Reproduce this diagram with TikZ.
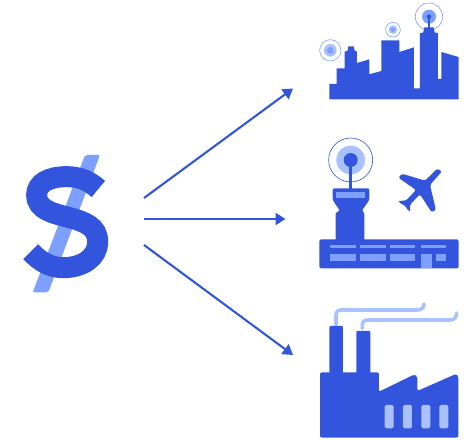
\documentclass[tikz,border=0pt]{standalone}
\usetikzlibrary{arrows.meta}
\definecolor{darkblue}{HTML}{3355DD}
\definecolor{midblue}{HTML}{7DA0FF}
\definecolor{paleblue}{HTML}{AAC1FF}
\tikzset{
  flow/.style={draw=darkblue,line width=2.1pt,-{Triangle[length=10pt,width=12pt]}},
  solid dark/.style={fill=darkblue,draw=none},
  solid mid/.style={fill=midblue,draw=none},
  solid pale/.style={fill=paleblue,draw=none},
  ring/.style={draw=midblue,line width=.6pt,fill=white},
  smoke/.style={draw=paleblue,line width=3.6pt,line cap=round},
  icon/.style={shift={(#1)},x=.3333pt,y=-.3333pt}
}
\begin{document}
\begin{tikzpicture}[x=1pt,y=-1pt]
\useasboundingbox (0,0) rectangle (464,441);
% dollar
\begin{scope}[icon={10pt,-145pt}]
  \fill[solid mid,rounded corners=2pt] (225,30) -- (270,30) -- (115,442) -- (68,442) -- cycle;
  \draw[darkblue,line width=21pt] (265,132) .. controls (235,105) and (205,95) .. (170,95)
    .. controls (115,95) and (80,115) .. (80,150) .. controls (80,195) and (130,205) .. (175,217)
    .. controls (225,230) and (263,245) .. (263,290) .. controls (263,340) and (215,368) .. (160,368)
    .. controls (120,368) and (90,350) .. (62,320);
\end{scope}
% arrows
\coordinate (src top) at (144,198);
\coordinate (src mid) at (144,219);
\coordinate (src low) at (144,245);
\coordinate (city) at (293,88.5);
\coordinate (airport) at (285.5,219);
\coordinate (factory) at (293,355);
\draw[flow] (src top) -- (city);
\draw[flow] (src mid) -- (airport);
\draw[flow] (src low) -- (factory);
% city
\begin{scope}[icon={310pt,0pt}]
  \foreach \cx/\cy/\ra/\rb/\rc in {61/151/32/19/10, 249/89/22/13/7}{
    \draw[ring] (\cx,\cy) circle [radius=\ra];
    \fill[solid pale] (\cx,\cy) circle [radius=\rb];
    \fill[solid mid] (\cx,\cy) circle [radius=\rc];
  }
  \draw[ring] (357,50) circle [radius=41];
  \fill[solid mid] (357,50) circle [radius=21];
  \fill[solid dark] (357,50) circle [radius=7];
  \draw[darkblue,line width=1.3pt] (357,50) -- (357,85);
  \fill[solid dark] (58,298) -- (58,252) -- (80,252) -- (80,205) -- (104,205) -- (104,155)
    -- (113,152) -- (115,139) -- (131,139) -- (134,152) -- (141,155) -- (141,189) -- (178,178)
    -- (178,223) -- (214,213) -- (214,121) -- (268,121) -- (268,156) -- (312,142) -- (312,265)
    -- (330,265) -- (330,100) -- (340,97) -- (343,82) -- (371,82) -- (374,97) -- (384,100)
    -- (384,237) -- (394,237) -- (394,156) -- (446,171) -- (446,298) -- cycle;
\end{scope}
% airport
\begin{scope}[icon={310pt,-130pt}]
  \draw[ring,draw=darkblue] (122,90) circle [radius=66];
  \fill[solid pale] (122,90) circle [radius=43];
  \fill[solid dark] (122,90) circle [radius=21];
  \draw[darkblue,line width=3.2pt] (122,90) -- (122,180);
  \fill[solid dark,rounded corners=1.5pt] (68,175) -- (178,175) -- (178,210) -- (155,243)
    -- (163,247) -- (163,335) -- (77,335) -- (77,247) -- (90,243) -- (68,210) -- cycle;
  \fill[solid mid] (77,186) rectangle (166,205);
  \fill[solid dark,rounded corners=2pt] (28,328) rectangle (446,415);
  \foreach \xa/\xb in {60/138, 150/228, 240/316, 332/408}
    \fill[solid mid] (\xa,345) rectangle (\xb,353);
  \foreach \xa/\xb in {60/138, 150/228, 240/316, 378/408}
    \fill[solid mid] (\xa,371) rectangle (\xb,393);
  \fill[solid mid] (332,371) rectangle (366,415);
  % plane
  \fill[solid dark,rounded corners=2.2pt] (396,124) -- (382,116) -- (345,152) -- (276,131) -- (265,143)
    -- (318,180) -- (288,212) -- (268,212) -- (266,217) -- (285,227) -- (297,245) -- (301,241)
    -- (300,224) -- (330,193) -- (365,247) -- (378,240) -- (360,165) -- cycle;
\end{scope}
% factory
\begin{scope}[icon={310pt,-295pt}]
  \draw[smoke] (78,90) -- (78,62) .. controls (78,50) and (84,45) .. (95,45) -- (322,45)
    .. controls (335,45) and (342,38) .. (342,27);
  \draw[smoke] (157,100) -- (157,90) .. controls (157,80) and (163,75) .. (175,75) -- (420,75)
    .. controls (432,75) and (440,68) .. (440,54);
  \fill[solid dark,rounded corners=1pt] (58,93) rectangle (99,240);
  \fill[solid dark,rounded corners=1pt] (139,108) rectangle (181,240);
  \fill[solid dark,rounded corners=2pt] (30,232) -- (207,232) -- (207,290) -- (314,238) -- (322,244)
    -- (322,288) -- (440,236) -- (445,244) -- (445,428) -- (30,428) -- cycle;
  \foreach \xa in {224,279,334,388}
    \fill[solid pale,rounded corners=1.5pt] (\xa,330) rectangle ++(27,70);
\end{scope}
\end{tikzpicture}
\end{document}
